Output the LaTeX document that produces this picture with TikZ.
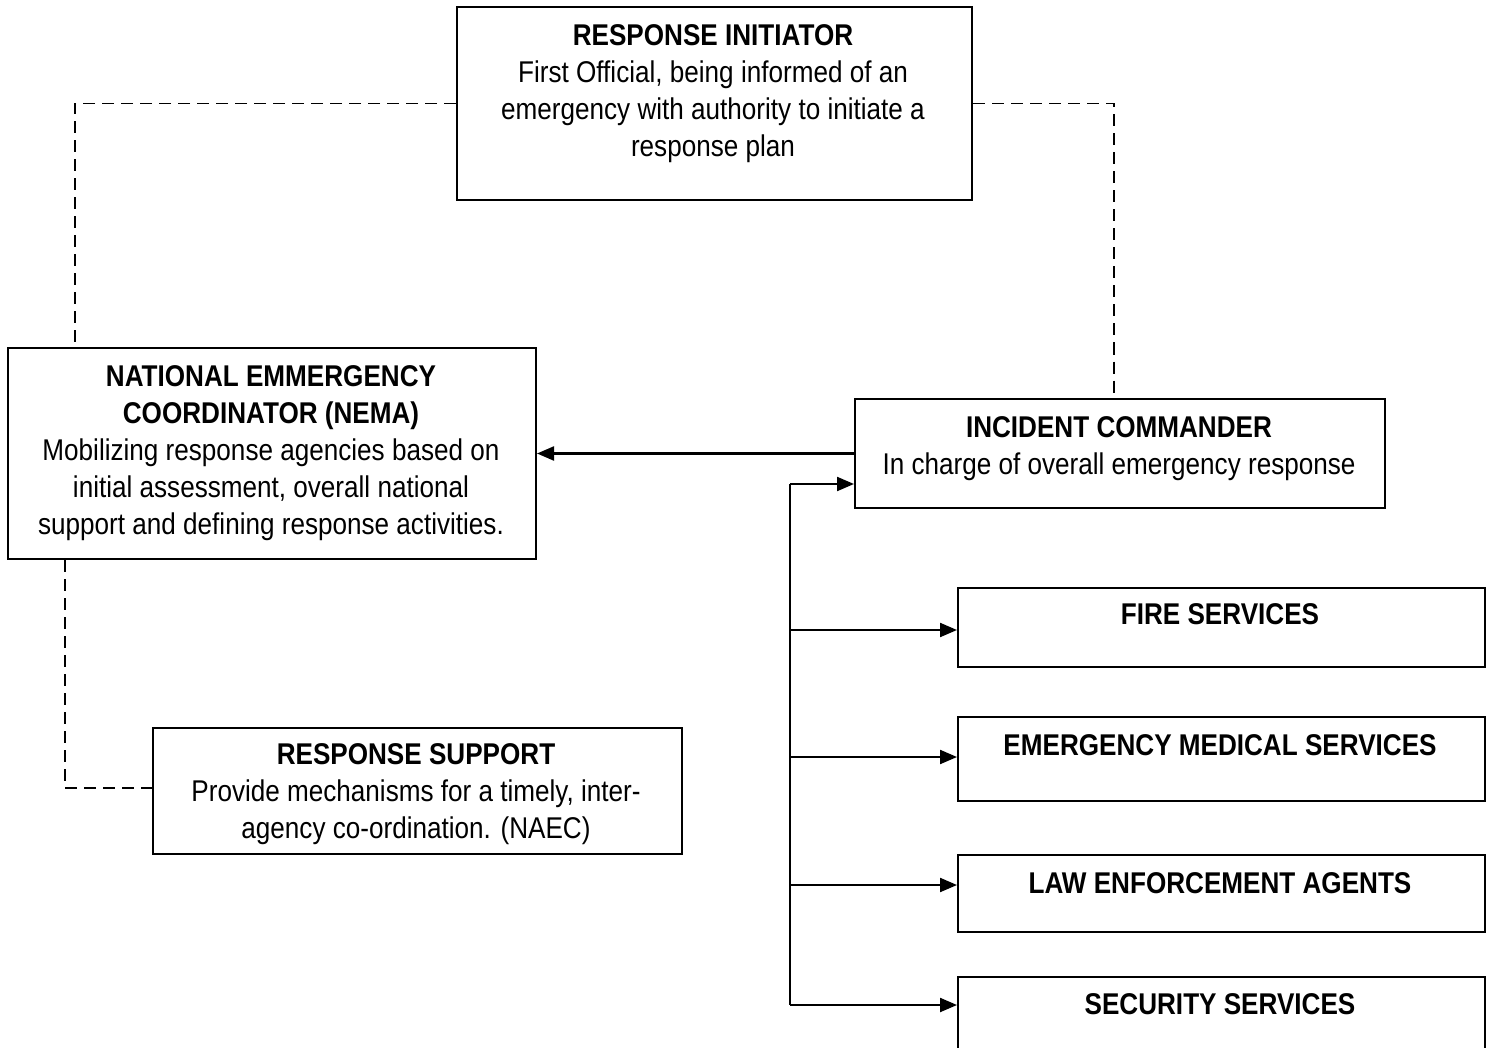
\documentclass[tikz,border=0pt]{standalone}
\usepackage{fontspec}
\setmainfont{Liberation Sans}[FakeStretch=0.87]
\usetikzlibrary{arrows.meta}
\begin{document}
\begin{tikzpicture}[x=1pt,y=-1pt,
  box/.style={draw, line width=2pt, anchor=north west, inner sep=0pt},
  txt/.style={anchor=north, align=center, inner sep=0pt,
              font=\fontsize{30}{37}\selectfont},
  link/.style={line width=1.4pt, dash pattern=on 12pt off 7pt},
  feed/.style={line width=2.2pt, -{Triangle[length=17pt,width=14pt]}},
  bus/.style={line width=2.2pt}
]
\useasboundingbox (0,0) rectangle (1493,1048);

% boxes
\node[box, minimum width=515pt, minimum height=193pt] (ri)   at (456,6)   {};
\node[box, minimum width=528pt, minimum height=211pt] (nema) at (7,347)   {};
\node[box, minimum width=530pt, minimum height=109pt] (ic)   at (854,398) {};
\node[box, minimum width=529pt, minimum height=126pt] (rs)   at (152,727) {};
\node[box, minimum width=527pt, minimum height=79pt]  (fire) at (957,587) {};
\node[box, minimum width=527pt, minimum height=84pt]  (ems)  at (957,716) {};
\node[box, minimum width=527pt, minimum height=77pt]  (lea)  at (957,854) {};
\node[box, minimum width=527pt, minimum height=80pt]  (sec)  at (957,976) {};

% texts
\node[txt] (riT) at (713,24) {\textbf{RESPONSE INITIATOR}\\First Official, being informed of an\\emergency with authority to initiate a\\response plan};
\node[txt] (nemaT) at (271,365) {\textbf{NATIONAL EMMERGENCY}\\\textbf{COORDINATOR (NEMA)}\\Mobilizing response agencies based on\\initial assessment, overall national\\support and defining response activities.};
\node[txt] (icT) at (1119,416) {\textbf{INCIDENT COMMANDER}\\In charge of overall emergency response};
\node[txt] (rsT) at (416,743) {\textbf{RESPONSE SUPPORT}\\Provide mechanisms for a timely, inter-\\agency co-ordination. (NAEC)};
\node[txt] (fireT) at (1220,603) {\textbf{FIRE SERVICES}};
\node[txt] (emsT)  at (1220,734) {\textbf{EMERGENCY MEDICAL SERVICES}};
\node[txt] (leaT)  at (1220,872) {\textbf{LAW ENFORCEMENT AGENTS}};
\node[txt] (secT)  at (1220,993) {\textbf{SECURITY SERVICES}};

% dashed links
\draw[link] (ri.west) -| ([xshift=68pt]nema.north west);
\draw[link] (ri.east) -| ([xshift=-6pt]ic.north);
\draw[link] ([xshift=58pt]nema.south west) |- ([yshift=3pt]rs.west);

% incident commander to coordinator
\draw[feed] (ic.west) -- (nema.east);

% command bus
\coordinate (jI) at (790,484);
\coordinate (jF) at (790,630);
\coordinate (jE) at (790,757);
\coordinate (jL) at (790,885);
\coordinate (jS) at (790,1005);
\draw[bus] (jI) -- (jS);
\draw[feed] (jI) -- (jI -| ic.west);
\draw[feed] (jF) -- (jF -| fire.west);
\draw[feed] (jE) -- (jE -| ems.west);
\draw[feed] (jL) -- (jL -| lea.west);
\draw[feed] (jS) -- (jS -| sec.west);
\end{tikzpicture}
\end{document}
